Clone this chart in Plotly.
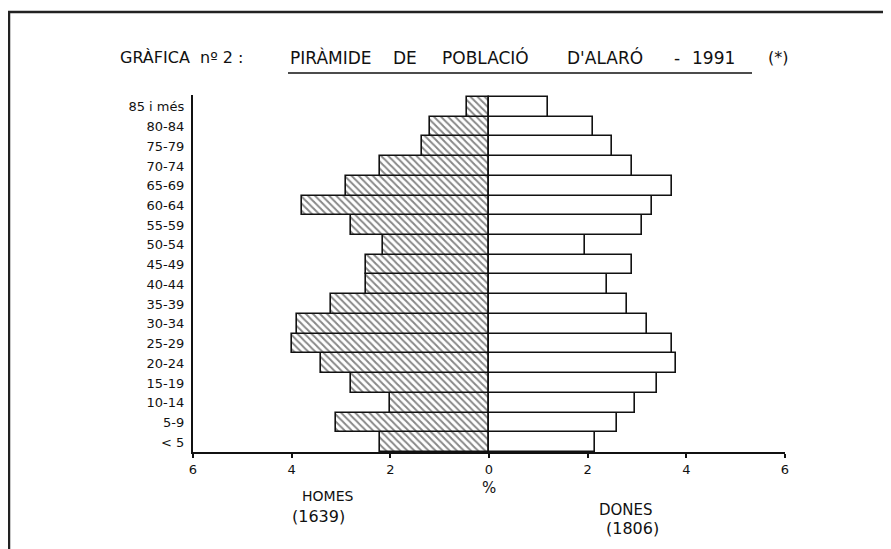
import plotly.graph_objects as go

# ---- data (percent of population) ----
age_groups = ["< 5", "5-9", "10-14", "15-19", "20-24", "25-29", "30-34", "35-39",
              "40-44", "45-49", "50-54", "55-59", "60-64", "65-69", "70-74",
              "75-79", "80-84", "85 i més"]
homes = [2.2, 3.1, 2.0, 2.8, 3.4, 4.0, 3.9, 3.2, 2.5, 2.5, 2.15, 2.8, 3.8, 2.9,
         2.2, 1.35, 1.2, 0.45]
dones = [2.15, 2.6, 2.95, 3.4, 3.8, 3.7, 3.2, 2.8, 2.4, 2.9, 1.95, 3.1, 3.3,
         3.7, 2.9, 2.5, 2.1, 1.2]
tick_vals = [-6, -4, -2, 0, 2, 4, 6]
tick_text = ["6", "4", "2", "0", "2", "4", "6"]
title_words = ["PIRÀMIDE", "DE", "POBLACIÓ", "D'ALARÓ", "-", "1991"]

W, H = 891, 549
OFF = 8  # page body margin
L, R, T, B = 193, 785, 95, 452   # plot area in screen pixels


def px(x):
    return (x - L) / (R - L)


def py(y):
    return (B - y) / (B - T)


FONT = "DejaVu Sans"

fig = go.Figure()
fig.add_trace(go.Bar(
    y=age_groups, x=[-v for v in homes], orientation="h", name="Homes",
    marker=dict(color="white", line=dict(color="#111", width=1.6),
                pattern=dict(shape="\\", fgcolor="#111", bgcolor="white",
                             size=5, solidity=0.4)),
    hoverinfo="skip"))
fig.add_trace(go.Bar(
    y=age_groups, x=dones, orientation="h", name="Dones",
    marker=dict(color="white", line=dict(color="#111", width=1.6)),
    hoverinfo="skip"))

fig.update_layout(
    width=W, height=H,
    margin=dict(l=L - OFF, r=W - (R - OFF), t=T - OFF, b=H - (B - OFF), pad=0),
    paper_bgcolor="white", plot_bgcolor="white",
    barmode="overlay", bargap=0, showlegend=False,
    font=dict(family=FONT, color="#111"),
    xaxis=dict(range=[-6, 6], tickvals=tick_vals, ticktext=tick_text,
               showgrid=False, zeroline=False, showline=True,
               linecolor="#111", linewidth=2, ticks="outside",
               ticklen=4, tickwidth=1.5, tickcolor="#111",
               tickfont=dict(size=13, family=FONT), fixedrange=True),
    yaxis=dict(categoryorder="array", categoryarray=age_groups,
               range=[-0.5, 17.6],
               showgrid=False, zeroline=False, showline=True,
               linecolor="#111", linewidth=2, ticks="",
               tickfont=dict(size=13, family=FONT), fixedrange=True,
               ticksuffix=" "),
)

# outer hand-drawn frame
fig.add_shape(type="rect", xref="paper", yref="paper",
              x0=px(9), x1=px(920), y0=py(580), y1=py(12),
              line=dict(color="#222", width=2.5), layer="below")


def label(x, y, text, size, xanchor="center"):
    fig.add_annotation(xref="paper", yref="paper", x=px(x), y=py(y),
                       xanchor=xanchor, yanchor="middle", showarrow=False,
                       text=text, font=dict(size=size, family=FONT))


# title
label(118, 58, "GRÀFICA  nº 2 :", 16, "left")
word_x = [288, 391, 440, 565, 672, 690]
for wx, wd in zip(word_x, title_words):
    label(wx, 58, wd, 17, "left")
label(766, 58, "(*)", 16, "left")
fig.add_shape(type="line", xref="paper", yref="paper",
              x0=px(288), x1=px(752), y0=py(73), y1=py(73),
              line=dict(color="#111", width=1.5))

# axis / group labels
label(489, 488, "%", 15)
label(327, 496, "HOMES", 14)
label(318, 516, "(1639)", 16)
label(626, 510, "DONES", 15)
label(632, 528, "(1806)", 16)

fig.write_html("out.html")
